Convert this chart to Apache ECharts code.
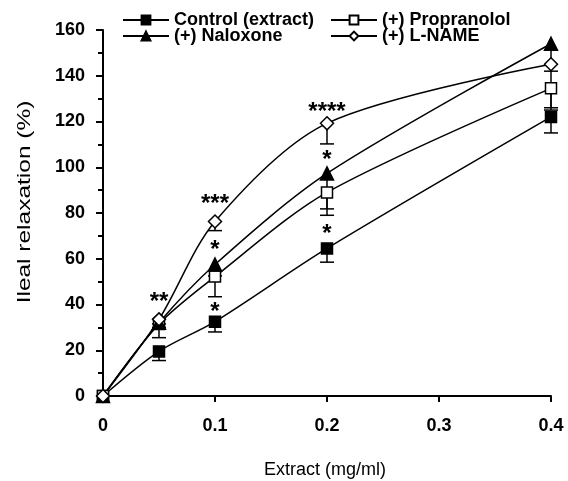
<!DOCTYPE html>
<html><head><meta charset="utf-8">
<script src="https://cdn.jsdelivr.net/npm/echarts@6/dist/echarts.min.js"></script>
<style>html,body{margin:0;padding:0;background:#fff}#c{width:568px;height:481px}</style>
</head><body><div id="c"></div>
<script>
var xs = [0, 0.05, 0.1, 0.2, 0.4];
var seriesNames = ['Control (extract)', '(+) Propranolol', '(+) Naloxone', '(+) L-NAME'];
var control = [0, 19.5, 32.5, 64.5, 122];
var controlErr = [0, 4, 4.5, 6, 7];
var propranolol = [0, 31.5, 52.2, 89, 134.5];
var propranololErr = [0, 6, 8.8, 10, 9.5];
var naloxone = [0, 32, 57.5, 97.3, 154];
var naloxoneErr = [0, 2, 5, 15.5, 28];
var lname = [0, 33.5, 76.3, 119.2, 145];
var lnameErr = [0, 2, 4, 9, 3];
var starX = [0.05, 0.1, 0.1, 0.1, 0.2, 0.2, 0.2];
var starY = [41, 36.6, 63.8, 83.6, 70.8, 103.2, 124];
var starText = ['**', '*', '*', '***', '*', '*', '****'];
var xTicks = [0, 0.1, 0.2, 0.3, 0.4];
var yTicks = [0, 20, 40, 60, 80, 100, 120, 140, 160];

var FONT = '"Liberation Sans", Arial, sans-serif';
function pairs(v) { return xs.map(function (x, i) { return [x, v[i]]; }); }
function errPairs(v, e) { return xs.map(function (x, i) { return [x, v[i], e[i]]; }); }

var styles = [
  { symbol: 'rect', size: 11, fill: '#000' },
  { symbol: 'rect', size: 11, fill: '#fff' },
  { symbol: 'triangle', size: 13, fill: '#000' },
  { symbol: 'diamond', size: 13, fill: '#fff' }
];
var values = [control, propranolol, naloxone, lname];
var errs = [controlErr, propranololErr, naloxoneErr, lnameErr];

var series = [];
values.forEach(function (v, k) {
  series.push({
    type: 'custom', name: seriesNames[k] + ' err', z: 1, clip: false,
    data: errPairs(v, errs[k]),
    encode: { x: 0, y: 1 },
    renderItem: function (params, api) {
      var x = api.value(0), y = api.value(1), e = api.value(2);
      if (!e) return null;
      var p0 = api.coord([x, y]), p1 = api.coord([x, y - e]);
      var st = { stroke: '#000', lineWidth: 1.5 };
      return { type: 'group', children: [
        { type: 'line', shape: { x1: p0[0], y1: p0[1], x2: p1[0], y2: p1[1] }, style: st },
        { type: 'line', shape: { x1: p1[0] - 7, y1: p1[1], x2: p1[0] + 7, y2: p1[1] }, style: st }
      ] };
    }
  });
});
values.forEach(function (v, k) {
  var s = styles[k];
  series.push({
    type: 'line', name: seriesNames[k], z: 3, clip: false,
    data: pairs(v), smooth: 0.3,
    symbol: s.symbol, symbolSize: s.size, showAllSymbol: true,
    lineStyle: { color: '#000', width: 1.5 },
    itemStyle: { color: s.fill, borderColor: '#000', borderWidth: 1.5 },
    emphasis: { disabled: true }
  });
});
series.push({
  type: 'custom', name: 'stars', z: 4, clip: false,
  data: starX.map(function (x, i) { return [x, starY[i], i]; }),
  encode: { x: 0, y: 1 },
  renderItem: function (params, api) {
    var p = api.coord([api.value(0), api.value(1)]);
    return { type: 'text', x: p[0], y: p[1], style: {
      text: starText[api.value(2)], fill: '#000', font: 'bold 24px ' + FONT,
      align: 'center', verticalAlign: 'middle' } };
  }
});

var legendPos = [[122, 11], [330, 11], [122, 27], [330, 27]];
var legends = seriesNames.map(function (n, k) {
  return {
    data: [n], left: legendPos[k][0], top: legendPos[k][1], padding: 0,
    itemWidth: 46, itemHeight: 11, itemGap: 0, selectedMode: false,
    textStyle: { fontFamily: FONT, fontWeight: 'bold', fontSize: 18, color: '#000' }
  };
});

var chart = echarts.init(document.getElementById('c'), null, { renderer: 'canvas' });
chart.setOption({
  animation: false,
  backgroundColor: '#fff',
  legend: legends,
  grid: { left: 103, right: 17, top: 30, bottom: 85, containLabel: false },
  xAxis: {
    type: 'value', min: xTicks[0], max: xTicks[xTicks.length - 1], interval: 0.1,
    axisLine: { show: true, onZero: false, lineStyle: { color: '#000', width: 2 } },
    axisTick: { show: true, length: 6, lineStyle: { color: '#000', width: 2 } },
    splitLine: { show: false },
    axisLabel: { margin: 21, color: '#000', fontFamily: FONT, fontWeight: 'bold', fontSize: 18,
      formatter: function (v) { return String(+v.toFixed(1)); } }
  },
  yAxis: {
    type: 'value', min: yTicks[0], max: yTicks[yTicks.length - 1], interval: 20,
    axisLine: { show: true, onZero: false, lineStyle: { color: '#000', width: 2 } },
    axisTick: { show: true, length: 7, lineStyle: { color: '#000', width: 2 } },
    minorTick: { show: true, splitNumber: 2, length: 5, lineStyle: { color: '#000', width: 2 } },
    splitLine: { show: false },
    axisLabel: { margin: 18, color: '#000', fontFamily: FONT, fontWeight: 'bold', fontSize: 18 }
  },
  graphic: [
    { type: 'text', x: 25, y: 202, rotation: Math.PI / 2, scaleX: 1.36, style: { text: 'Ileal relaxation (%)',
      font: '18px ' + FONT, fill: '#000', align: 'center', verticalAlign: 'middle' } },
    { type: 'text', x: 325, y: 470, style: { text: 'Extract (mg/ml)',
      font: '18px ' + FONT, fill: '#000', align: 'center', verticalAlign: 'middle' } }
  ],
  series: series
});
</script>
</body></html>
